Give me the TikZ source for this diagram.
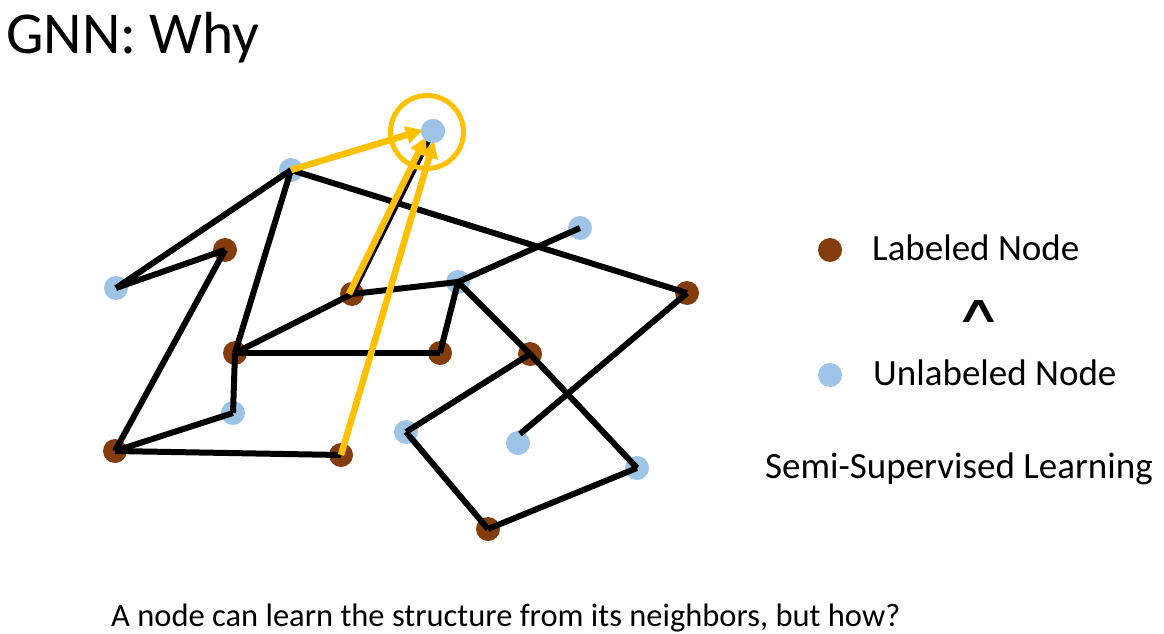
\documentclass[tikz,border=0pt]{standalone}
\usepackage{fontspec}
\setmainfont{Carlito}
\newfontfamily\symfont{DejaVu Sans}
\usetikzlibrary{arrows.meta}
\definecolor{lblue}{HTML}{9DC3E6}
\definecolor{lbrown}{HTML}{843C0C}
\definecolor{lorange}{HTML}{FFC000}
\tikzset{
  dot/.style={circle, inner sep=0pt, minimum size=24pt},
  unl/.style={dot, fill=lblue},
  lab/.style={dot, fill=lbrown},
  edge/.style={line width=6pt, black},
  orarrow/.style={line width=6.5pt, lorange, -{Triangle[length=17pt,width=17pt]}},
  txt/.style={inner sep=0pt, anchor=base west},
}
\begin{document}
\begin{tikzpicture}[x=1pt,y=-1pt]
\useasboundingbox (0,0) rectangle (1164,634);
% nodes
\node[unl] (T) at (433,131) {};
\node[unl] (A) at (291,170) {};
\node[unl] (B) at (580,228) {};
\node[lab] (C) at (225,250) {};
\node[unl] (D) at (116,288) {};
\node[lab] (E) at (352,294) {};
\node[unl] (F) at (458,282) {};
\node[lab] (G) at (687,293) {};
\node[lab] (H) at (235,353) {};
\node[lab] (I) at (440,353) {};
\node[lab] (J) at (530,354) {};
\node[unl] (K) at (233,413) {};
\node[unl] (L) at (406,432) {};
\node[unl] (M) at (518,443) {};
\node[lab] (N) at (115,451) {};
\node[lab] (O) at (341,455) {};
\node[unl] (P) at (637,468) {};
\node[lab] (Q) at (488,529) {};
% edges
\foreach \a/\b in {A/D, D/C, C/N, A/H, A/G, H/E, E/F, F/B, H/I, I/F, F/J, J/L, J/P, H/K, K/N, N/O, L/Q, Q/P}
  \draw[edge] (\a.center) -- (\b.center);
\coordinate (gm) at (520,434);
\draw[edge] (G.center) -- (gm);
\coordinate (et) at (428,141);
\draw[edge] (E.center) -- (et);
% orange arrows
\coordinate (tA) at (423,130);
\coordinate (tE) at (426,137);
\coordinate (tO) at (434,141);
\draw[orarrow] (A.center) -- (tA);
\draw[orarrow] ([xshift=-3pt]E.center) -- (tE);
\draw[orarrow] (O.center) -- (tO);
\node[unl] at (T) {};
\node[draw=lorange, line width=5pt, circle, inner sep=0pt, minimum size=73pt] (ring) at (427,132) {};
% legend
\node[lab] (lg1) at (830,250) {};
\node[txt, font=\fontsize{37}{44}\selectfont] (t1) at (872,260) {Labeled Node};
\node[inner sep=0pt, anchor=base, font=\symfont\fontsize{38}{46}\selectfont] (caret) at (979,322) {\scalebox{1.75}[1]{∧}};
\node[unl] (lg2) at (830,375) {};
\node[txt, font=\fontsize{37}{44}\selectfont] (t2) at (873,385) {Unlabeled Node};
\node[txt, font=\fontsize{37}{44}\selectfont] (t3) at (765,478) {Semi-Supervised Learning};
% title & caption
\node[txt, font=\fontsize{59.4}{70}\selectfont] (title) at (6,53) {GNN: Why};
\node[txt, font=\fontsize{32.5}{38}\selectfont] (cap) at (111,626) {A node can learn the structure from its neighbors, but how?};
\end{tikzpicture}
\end{document}
